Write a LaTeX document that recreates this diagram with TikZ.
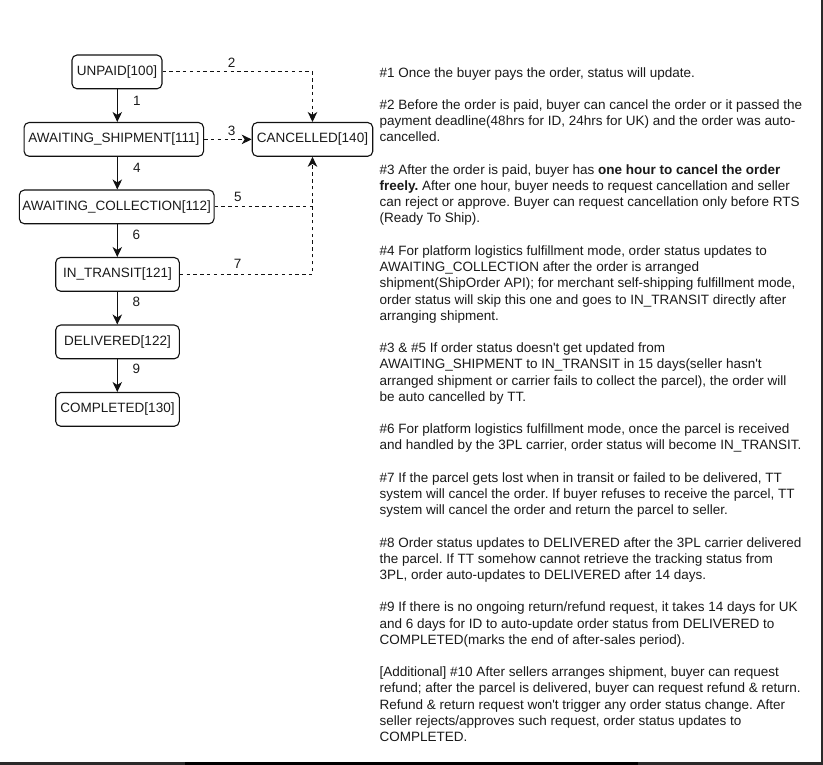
\documentclass[tikz,border=0pt]{standalone}
\usepackage{fontspec}
\setmainfont{Liberation Sans}
\usetikzlibrary{arrows.meta}
\definecolor{txt}{HTML}{1A1A1A}
\definecolor{edge}{HTML}{111111}
\definecolor{frame}{HTML}{2A2A2A}
\newcommand{\fs}{\fontsize{13.5}{16.2}\selectfont}
\newcommand{\sq}{\textquotesingle}
\newcommand{\firststrut}{\rule{0pt}{11pt}}
\frenchspacing
\tikzset{
  state/.style={draw=edge, rounded corners=5pt, line width=1.1pt, minimum height=33.75pt,
    inner sep=0pt, font=\fs, text=txt},
  flow/.style={draw=edge, line width=1.1pt, -{Stealth[length=10pt,width=9.5pt,inset=3pt]}},
  cancelflow/.style={flow, dash pattern=on 3.4pt off 3.4pt},
  cancelline/.style={draw=edge, line width=1.1pt, dash pattern=on 3.4pt off 3.4pt},
  lbl/.style={font=\fs, text=txt, inner sep=0pt},
  para/.style={anchor=north west, inner sep=0pt, align=left, font=\fs\frenchspacing, text=txt}
}
\begin{document}
\begin{tikzpicture}[x=1pt,y=-1pt]
\useasboundingbox (0,0) rectangle (823,765);
\fill[white] (0,0) rectangle (823,765);
% frame edges
\fill[frame] (821,0) rectangle (823,765);
\fill[frame] (0,762.3) rectangle (823,765);
\fill[black] (185,761.7) rectangle (638,765);

% states
\node[state, minimum width=90pt]     (unpaid)  at (117,71.9)   {UNPAID[100]};
\node[state, minimum width=179.5pt]  (ship)    at (113.8,139.4) {AWAITING\_SHIPMENT[111]};
\node[state, minimum width=120.5pt]  (cancel)  at (312.5,139.4) {CANCELLED[140]};
\node[state, minimum width=194.7pt]  (coll)    at (116.7,206.9) {AWAITING\_COLLECTION[112]};
\node[state, minimum width=123.6pt]  (transit) at (117.5,274.4) {IN\_TRANSIT[121]};
\node[state, minimum width=123.6pt]  (deliv)   at (117.5,341.9) {DELIVERED[122]};
\node[state, minimum width=123.6pt]  (compl)   at (117.5,409.4) {COMPLETED[130]};

% main flow
\coordinate (ax) at (117.3,0);
\draw[flow] (unpaid.south -| ax) -- (ship.north -| ax);
\draw[flow] (ship.south -| ax) -- (coll.north -| ax);
\draw[flow] (coll.south -| ax) -- (transit.north -| ax);
\draw[flow] (transit.south -| ax) -- (deliv.north -| ax);
\draw[flow] (deliv.south -| ax) -- (compl.north -| ax);

% cancellation flows
\draw[cancelflow] (unpaid.east) -| (cancel.north);
\draw[cancelflow] (ship.east) -- (cancel.west);
\draw[cancelflow] (coll.east) -| (cancel.south);
\draw[cancelline] (transit.east) -| (cancel.south);

% labels
\node[lbl] (l1) at (137,100.5) {1};
\node[lbl] (l2) at (231.7,63) {2};
\node[lbl] (l3) at (231.7,131) {3};
\node[lbl] (l4) at (137,167.5) {4};
\node[lbl] (l5) at (238,196.5) {5};
\node[lbl] (l6) at (136.5,234.5) {6};
\node[lbl] (l7) at (237.7,264.3) {7};
\node[lbl] (l8) at (136.5,301.5) {8};
\node[lbl] (l9) at (136.5,369) {9};

% notes
\node[para] (n1) at (379.5,66) {\firststrut\#1 Once the buyer pays the order, status will update.};
\node[para] (n2) at (379.5,98.4) {\firststrut\#2 Before the order is paid, buyer can cancel the order or it passed the\\
payment deadline(48hrs for ID, 24hrs for UK) and the order was auto-\\
cancelled.};
\node[para] (n3) at (379.5,163.2) {\firststrut\#3 After the order is paid, buyer has \textbf{one hour to cancel the order}\\
\textbf{freely.} After one hour, buyer needs to request cancellation and seller\\
can reject or approve. Buyer can request cancellation only before RTS\\
(Ready To Ship).};
\node[para] (n4) at (379.5,244.2) {\firststrut\#4 For platform logistics fulfillment mode, order status updates to\\
AWAITING\_COLLECTION after the order is arranged\\
shipment(ShipOrder API); for merchant self-shipping fulfillment mode,\\
order status will skip this one and goes to IN\_TRANSIT directly after\\
arranging shipment.};
\node[para] (n5) at (379.5,341.4) {\firststrut\#3 \& \#5 If order status doesn\sq t get updated from\\
AWAITING\_SHIPMENT to IN\_TRANSIT in 15 days(seller hasn\sq t\\
arranged shipment or carrier fails to collect the parcel), the order will\\
be auto cancelled by TT.};
\node[para] (n6) at (379.5,422.4) {\firststrut\#6 For platform logistics fulfillment mode, once the parcel is received\\
and handled by the 3PL carrier, order status will become IN\_TRANSIT.};
\node[para] (n7) at (379.5,471) {\firststrut\#7 If the parcel gets lost when in transit or failed to be delivered, TT\\
system will cancel the order. If buyer refuses to receive the parcel, TT\\
system will cancel the order and return the parcel to seller.};
\node[para] (n8) at (379.5,535.8) {\firststrut\#8 Order status updates to DELIVERED after the 3PL carrier delivered\\
the parcel. If TT somehow cannot retrieve the tracking status from\\
3PL, order auto-updates to DELIVERED after 14 days.};
\node[para] (n9) at (379.5,600.6) {\firststrut\#9 If there is no ongoing return/refund request, it takes 14 days for UK\\
and 6 days for ID to auto-update order status from DELIVERED to\\
COMPLETED(marks the end of after-sales period).};
\node[para] (n10) at (379.5,665.4) {\firststrut[Additional] \#10 After sellers arranges shipment, buyer can request\\
refund; after the parcel is delivered, buyer can request refund \& return.\\
Refund \& return request won\sq t trigger any order status change. After\\
seller rejects/approves such request, order status updates to\\
COMPLETED.};
\end{tikzpicture}
\end{document}
